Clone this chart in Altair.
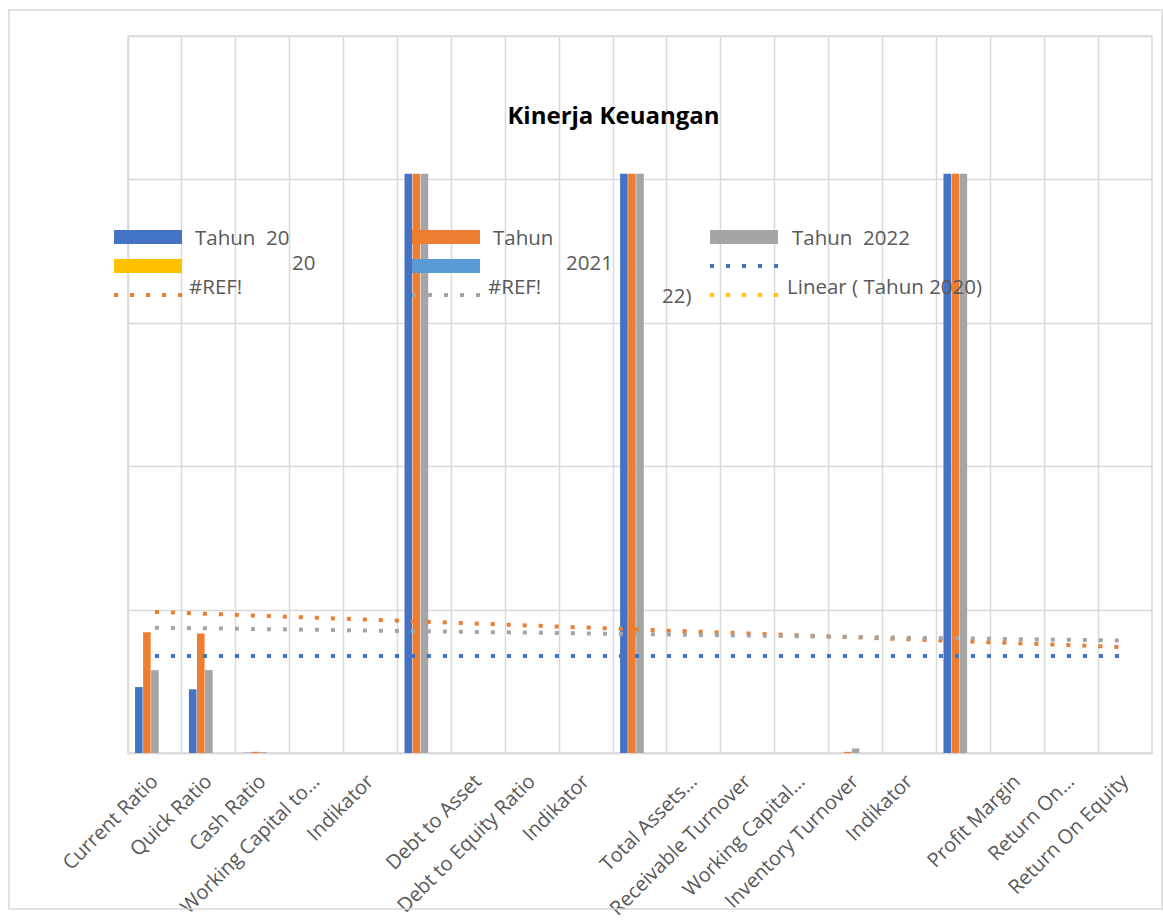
import json
import altair as alt
import pandas as pd

# ---------------- data ----------------
categories = [
    "Current Ratio", "Quick Ratio", "Cash Ratio", "Working Capital to…", "Indikator",
    "", "Debt to Asset", "Debt to Equity Ratio", "Indikator",
    "", "Total Assets…", "Receivable Turnover", "Working Capital…", "Inventory Turnover", "Indikator",
    "", "Profit Margin", "Return On…", "Return On Equity",
]
series_names = ["Tahun 2020", "Tahun 2021", "Tahun 2022", "#REF! (a)", "#REF! (b)"]
tahun_2020 = [23.0, 22.2, 0.1, 0, 0, 202, 0, 0, 0, 202, 0, 0, 0, 0, 0, 202, 0, 0, 0]
tahun_2021 = [42.1, 41.7, 0.4, 0, 0, 202, 0, 0, 0, 202, 0, 0, 0, 0.4, 0, 202, 0, 0, 0]
tahun_2022 = [28.9, 28.9, 0.3, 0, 0, 202, 0, 0, 0, 202, 0, 0, 0, 1.6, 0, 202, 0, 0, 0]

# linear trendlines (start / end values)
trend_names = ["Linear (Tahun 2020)", "Linear (Tahun 2021)", "Linear (Tahun 2022)"]
trend_start = [33.8, 49.2, 43.7]
trend_end = [33.8, 36.9, 39.2]

legend_texts = ["Tahun\u00a0 20", "Tahun", "Tahun\u00a0 2022", "20", "2021",
                "#REF!", "#REF!", "22)", "Linear ( Tahun 2020)"]
title_text = "Kinerja Keuangan"

# ---------------- styles ----------------
colors = ["#4472C4", "#ED7D31", "#A5A5A5", "#FFC000", "#5B9BD5"]
GRID = "#D9D9D9"
TXT = "#595959"
FONT = "Open Sans"
W, H = 1024, 717
LEFT, TOP = 128, 36

n = len(categories)
idx = list(range(n))

rows = []
for s, vals in zip(series_names[:3], [tahun_2020, tahun_2021, tahun_2022]):
    for i, v in zip(idx, vals):
        rows.append({"idx": i, "series": s, "value": v})
bars_df = pd.DataFrame(rows)

trows = []
for name, a, b in zip(trend_names, trend_start, trend_end):
    trows.append({"idx": idx[0], "trend": name, "value": a})
    trows.append({"idx": idx[-1], "trend": name, "value": b})
trend_df = pd.DataFrame(trows)

label_expr = json.dumps(categories) + "[datum.value]"

x_scale = alt.Scale(domain=idx, paddingInner=0, paddingOuter=0)
y_scale = alt.Scale(domain=[0, 250], nice=False)

x_axis = alt.Axis(
    title=None, labelExpr=label_expr, labelAngle=-45, labelAlign="right",
    labelBaseline="middle", labelPadding=25, labelFont=FONT, labelFontSize=20,
    labelColor=TXT, ticks=False, grid=True, gridColor=GRID, gridWidth=1.5,
    bandPosition=0, domainColor=GRID, domainWidth=1.5, labelOverlap=False,
    labelLimit=0,
)
y_axis = alt.Axis(
    title=None, labels=False, ticks=False, domain=False, grid=True,
    gridColor=GRID, gridWidth=1.5, values=[0, 50, 100, 150, 200, 250],
)

bars = alt.Chart(bars_df).mark_bar().encode(
    x=alt.X("idx:O", scale=x_scale, axis=x_axis),
    xOffset=alt.XOffset("series:N", scale=alt.Scale(domain=series_names, paddingOuter=0.875, paddingInner=0.06)),
    y=alt.Y("value:Q", scale=y_scale, axis=y_axis),
    color=alt.Color("series:N", scale=alt.Scale(domain=series_names, range=colors), legend=None),
)

trend = alt.Chart(trend_df).mark_line(strokeWidth=4, strokeDash=[4, 12], strokeCap="butt").encode(
    x=alt.X("idx:O", scale=x_scale),
    y=alt.Y("value:Q", scale=y_scale),
    color=alt.Color("trend:N", scale=alt.Scale(domain=trend_names, range=colors[:3]), legend=None),
    detail="trend:N",
)

# ---------------- manual legend (Excel-style, as rendered) ----------------
col_x = [114, 412, 710]
row_y = [237, 266, 295]
sw_w = 68
legend_items = [  # (kind, color index, col, row)
    ("bar", 0, 0, 0), ("bar", 1, 1, 0), ("bar", 2, 2, 0),
    ("bar", 3, 0, 1), ("bar", 4, 1, 1), ("dot", 0, 2, 1),
    ("dot", 1, 0, 2), ("dot", 2, 1, 2), ("dot", 3, 2, 2),
]
leg_bar = pd.DataFrame([
    {"x": col_x[c] - LEFT, "x2": col_x[c] + sw_w - LEFT, "y": row_y[r] - 7 - TOP,
     "y2": row_y[r] + 7 - TOP, "col": colors[k]}
    for kind, k, c, r in legend_items if kind == "bar"
])
leg_dot = pd.DataFrame([
    {"x": col_x[c] - LEFT, "x2": col_x[c] + sw_w - LEFT, "y": row_y[r] - TOP, "col": colors[k]}
    for kind, k, c, r in legend_items if kind == "dot"
])
text_pos = [(195, 239), (493, 239), (792, 239), (292, 264), (566, 264),
            (189, 288), (488, 288), (662, 297), (787, 288)]
leg_txt = pd.DataFrame([
    {"x": px - LEFT, "y": py - TOP, "t": t} for t, (px, py) in zip(legend_texts, text_pos)
])

lb = alt.Chart(leg_bar).mark_rect().encode(
    x=alt.X("x:Q", scale=None), x2="x2:Q", y=alt.Y("y:Q", scale=None), y2="y2:Q",
    color=alt.Color("col:N", scale=None),
)
ld = alt.Chart(leg_dot).mark_rule(strokeWidth=4, strokeDash=[4, 12], strokeCap="butt").encode(
    x=alt.X("x:Q", scale=None), x2="x2:Q", y=alt.Y("y:Q", scale=None),
    color=alt.Color("col:N", scale=None),
)
lt = alt.Chart(leg_txt).mark_text(
    align="left", baseline="middle", font=FONT, fontSize=20.5, color=TXT
).encode(x=alt.X("x:Q", scale=None), y=alt.Y("y:Q", scale=None), text="t:N")

title = alt.Chart(pd.DataFrame({"t": [title_text]})).mark_text(
    font=FONT, fontSize=24, fontWeight="bold", color="#000000", align="center", baseline="middle"
).encode(x=alt.value(613.5 - LEFT), y=alt.value(117 - TOP), text="t:N")

border = alt.Chart(pd.DataFrame({"a": [0]})).mark_rect(
    fillOpacity=0, stroke=GRID, strokeWidth=1.5
).encode(
    x=alt.value(9 - LEFT), x2=alt.value(1162 - LEFT), y=alt.value(10 - TOP), y2=alt.value(909 - TOP)
)

chart = alt.layer(border, bars, trend, lb, ld, lt, title).properties(
    width=W, height=H, autosize="none",
    padding={"left": LEFT, "top": TOP, "right": 1163 - LEFT - W, "bottom": 920 - TOP - H},
    background="white",
).configure_view(stroke=GRID, strokeWidth=1.5)

chart.save("out.html", embed_options={"renderer": "svg", "actions": False})
